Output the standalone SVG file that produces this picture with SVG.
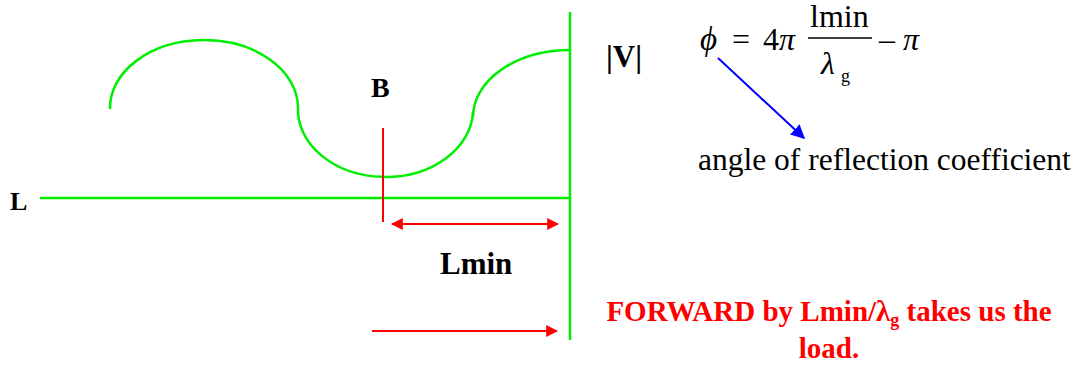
<svg xmlns="http://www.w3.org/2000/svg" width="1085" height="367" viewBox="0 0 1085 367">
<defs>
<style>
.g{stroke:#00ee00;stroke-width:2.5;fill:none}
.r{stroke:#ff0000;stroke-width:2;fill:none}
.t{font-family:"Liberation Serif",serif;fill:#000}
.b{font-weight:bold}
.red{fill:#ff0000;font-weight:bold;font-family:"Liberation Serif",serif}
</style>
<marker id="ra" viewBox="0 0 10 10" refX="9" refY="5" markerWidth="12" markerHeight="12" markerUnits="userSpaceOnUse" orient="auto-start-reverse"><path d="M0,0 L10,5 L0,10 z" fill="#ff0000"/></marker>
<marker id="ba" viewBox="0 0 10 10" refX="9" refY="5" markerWidth="14" markerHeight="14" markerUnits="userSpaceOnUse" orient="auto"><path d="M0,0 L10,5 L0,10 z" fill="#0000ff"/></marker>
</defs>
<rect width="1085" height="367" fill="#fff"/>
<g id="wave">
<path class="g" d="M110,109 A94,68 0 0 1 298,107"/>
<path class="g" d="M298,107 A87,67 0 0 0 473,112"/>
<path class="g" d="M473,117 A97,67 0 0 1 570,50"/>
</g>
<g id="line">
<line class="g" x1="40" y1="198" x2="570" y2="198"/>
<line class="g" x1="570" y1="12" x2="570" y2="340"/>
</g>
<g id="connectors">
<line class="r" x1="383" y1="128" x2="383" y2="222"/>
<line class="r" x1="392" y1="224" x2="558" y2="224" marker-start="url(#ra)" marker-end="url(#ra)"/>
<line class="r" x1="372" y1="331" x2="557" y2="331" marker-end="url(#ra)"/>
<line stroke="#0000ff" stroke-width="2" x1="718" y1="58" x2="804" y2="138" marker-end="url(#ba)"/>
</g>
<g id="labels">
<text class="t b" x="10" y="210" font-size="26">L</text>
<text class="t b" x="371" y="97" font-size="28">B</text>
<text class="t b" x="606" y="67" font-size="31">|V|</text>
<text class="t b" x="440" y="274" font-size="31">Lmin</text>
</g>
<g id="formula">
<text class="t" x="700" y="50" font-size="33" font-style="italic">ϕ</text>
<text class="t" x="732" y="50" font-size="32">=</text>
<text class="t" x="763" y="50" font-size="32">4<tspan font-style="italic">π</tspan></text>
<text class="t" x="810" y="27" font-size="32">lmin</text>
<line stroke="#000" stroke-width="1.5" x1="808" y1="38" x2="872" y2="38"/>
<text class="t" x="821" y="74" font-size="32" font-style="italic">λ</text>
<text class="t" x="841" y="82" font-size="18">g</text>
<text class="t" x="879" y="50" font-size="32">– <tspan font-style="italic">π</tspan></text>
</g>
<g id="caption">
<text class="t" x="698" y="170" font-size="31.5">angle of reflection coefficient</text>
<text class="red" x="829" y="321" font-size="29" text-anchor="middle">FORWARD by Lmin/λ<tspan font-size="18" dy="5">g</tspan><tspan dy="-5"> takes us the</tspan></text>
<text class="red" x="829" y="358" font-size="29" text-anchor="middle">load.</text>
</g>
</svg>
